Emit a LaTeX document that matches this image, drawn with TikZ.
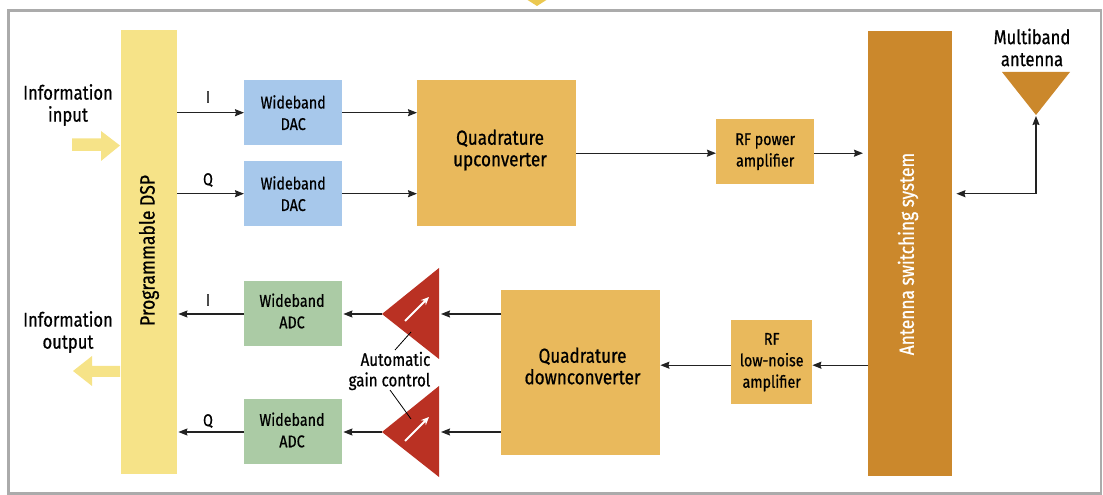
\documentclass[tikz,border=0pt]{standalone}
\usepackage{fontspec}
\setmainfont[FakeStretch=0.84,FakeBold=0.7]{Fira Sans}
\usetikzlibrary{arrows.meta}
\definecolor{dspc}{HTML}{F6E388}
\definecolor{dacc}{HTML}{A7C8EB}
\definecolor{adcc}{HTML}{ABCBA5}
\definecolor{convc}{HTML}{E9B95C}
\definecolor{antc}{HTML}{CB882C}
\definecolor{ampc}{HTML}{BA3123}
\definecolor{framec}{HTML}{ABABAB}
\definecolor{linec}{HTML}{222222}
\definecolor{topc}{HTML}{EBC850}
\tikzset{
  x=1bp,y=-1bp,
  every node/.style={font=\fontsize{17bp}{21.5bp}\selectfont,align=center,inner sep=0pt,text=black},
  bigtext/.style={font=\fontsize{20.3bp}{21.5bp}\selectfont},
  outertext/.style={font=\fontsize{19.8bp}{22bp}\selectfont},
  sidetext/.style={font=\fontsize{#1bp}{20bp}\selectfont,rotate=90},
  conn/.style={draw=linec,line width=1.1bp,-{Stealth[length=9bp,width=7bp,inset=1bp]}},
  leader/.style={draw=black,line width=.8bp},
}
\newcommand{\blk}[7]{\node[fill=#2,minimum width=#5bp-#3bp,minimum height=#6bp-#4bp,anchor=north west] (#1) at (#3,#4) {#7};}
\begin{document}
\begin{tikzpicture}
\useasboundingbox (0,0) rectangle (1103,495);
\clip (0,0) rectangle (1103,495);
\fill[topc] (526,-1) -- (537,6) -- (548,-1) -- cycle;
\draw[framec,line width=2.6bp] (8.5,10.5) rectangle (1101,493.5);

\blk{dsp}{dspc}{121}{30}{177}{474}{}
\blk{dac1}{dacc}{244}{80}{342}{145}{Wideband\\DAC}
\blk{dac2}{dacc}{244}{161}{342}{226}{Wideband\\DAC}
\blk{adc1}{adcc}{244}{281}{342}{346}{}
\blk{adc2}{adcc}{244}{399}{342}{464}{}
\blk{up}{convc}{417}{80}{576}{226}{}
\blk{down}{convc}{501}{290}{660}{455}{}
\blk{pa}{convc}{716}{119}{814}{184}{RF power\\amplifier}
\blk{lna}{convc}{731}{320}{812}{404}{RF\\low-noise\\amplifier}
\blk{sw}{antc}{868}{31}{952}{476}{}
\node (adc1label) at (292,311) {Wideband\\ADC};
\node (adc2label) at (292,430) {Wideband\\ADC};
\node[bigtext] (uplabel) at (500,150) {Quadrature\\upconverter};
\node[bigtext] (downlabel) at (582.5,366) {Quadrature\\downconverter};
\node[sidetext=20.8] (dsplabel) at (149,250.5) {Programmable DSP};
\node[sidetext=20.6,text=white] (swlabel) at (908,254) {Antenna switching system};

% amplifiers and antenna
\coordinate (a1) at (382,314);
\coordinate (a2) at (382,432);
\coordinate (a1r) at (439,314);
\coordinate (a2r) at (439,432);
\coordinate (ant) at (1036,115);
\fill[ampc] (a1) -- (439,268) -- (439,359) -- cycle;
\fill[ampc] (a2) -- (439,386) -- (439,477) -- cycle;
\fill[antc] (1002,72) -- (1070,72) -- (ant) -- cycle;
\draw[white,line width=2bp,-{Stealth[length=8bp,width=7bp]}] (405,321) -- (429,297);
\draw[white,line width=2bp,-{Stealth[length=8bp,width=7bp]}] (405,441) -- (429,417);

% yellow big arrows
\fill[dspc] (72,138.5) -- (101,138.5) -- (101,131) -- (120,145.5) -- (101,161) -- (101,151) -- (72,151) -- cycle;
\fill[dspc] (120,366) -- (92,366) -- (92,356) -- (73,371) -- (92,386) -- (92,377) -- (120,377) -- cycle;

% connectors
\draw[conn] (dsp.east |- dac1.west) -- (dac1.west);
\draw[conn] (dsp.east |- dac2.west) -- (dac2.west);
\draw[conn] (dac1.east) -- (up.west |- dac1.east);
\draw[conn] (dac2.east) -- (up.west |- dac2.east);
\draw[conn] ([yshift=-1.5bp]up.east |- pa.west) -- ([yshift=-1.5bp]pa.west);
\draw[conn] ([yshift=-1.5bp]pa.east) -- ([xshift=-5bp,yshift=-1.5bp]sw.west |- pa.east);
\draw[conn,{Stealth[length=9bp,width=7bp,inset=1bp]}-{Stealth[length=9bp,width=7bp,inset=1bp]}] ([xshift=4bp]sw.east |- dac2.east) -| ([yshift=-1bp]ant);
\draw[conn] ([yshift=-3bp]sw.west |- lna.east) -- ([yshift=-3bp]lna.east);
\draw[conn] ([yshift=-3bp]lna.west) -- ([yshift=-3bp]down.east |- lna.west);
\draw[conn] (down.west |- a1) -- ([xshift=2bp]a1r);
\draw[conn] (down.west |- a2) -- ([xshift=2bp]a2r);
\draw[conn] (a1) -- ([xshift=1bp]adc1.east |- a1);
\draw[conn] (a2) -- ([xshift=1bp]adc2.east |- a2);
\draw[conn] (adc1.west |- a1) -- ([xshift=1bp]dsp.east |- a1);
\draw[conn] (adc2.west |- a2) -- ([xshift=1bp]dsp.east |- a2);

% leaders
\coordinate (l1a) at (395,350); \coordinate (l1b) at (411,332);
\coordinate (l2a) at (390,390); \coordinate (l2b) at (411,419);
\draw[leader] (l1a) -- (l1b);
\draw[leader] (l2a) -- (l2b);

% labels
\node[outertext] (ilabel) at (68,105) {Information\\input};
\node[outertext] (olabel) at (68,332) {Information\\output};
\node[outertext] (antlabel) at (1032,47.5) {Multiband\\antenna};
\node[align=right,anchor=east,font=\fontsize{18bp}{20.5bp}\selectfont] (agc) at (430.5,371) {Automatic\\gain control};
\node (i1) at (208,97) {I};
\node (q1) at (208,180) {Q};
\node (i2) at (208,300) {I};
\node (q2) at (208,421) {Q};
\end{tikzpicture}
\end{document}
